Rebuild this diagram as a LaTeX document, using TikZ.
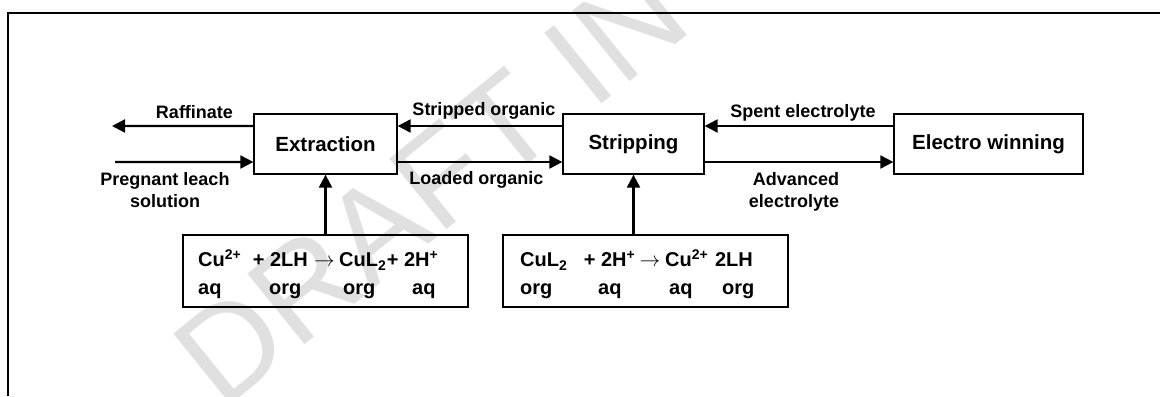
\documentclass[tikz,border=0pt]{standalone}
\usepackage{fontspec}
\setmainfont{Liberation Sans}
\usetikzlibrary{arrows.meta}
\newcommand{\supx}[1]{\raisebox{6.5bp}{\fontsize{14bp}{14bp}\selectfont #1}}
\newcommand{\subx}[1]{\raisebox{-4bp}{\fontsize{14bp}{14bp}\selectfont #1}}
\begin{document}
\begin{tikzpicture}[x=1bp,y=-1bp,
  procbox/.style={draw=black, line width=1.3bp, inner sep=0pt, font=\fontsize{20.5bp}{24bp}\selectfont\bfseries},
  eqbox/.style={draw=black, line width=1.3bp, inner sep=0pt, minimum width=285bp, minimum height=72bp},
  flow/.style={line width=2.2bp, -{Triangle[length=13bp,width=13bp]}},
  lbl/.style={font=\fontsize{18bp}{21bp}\selectfont\bfseries, inner sep=0pt, anchor=base, align=center},
  eqt/.style={font=\fontsize{20bp}{24bp}\selectfont\bfseries, inner sep=0pt, anchor=base west},
  eqr/.style={eqt, anchor=base east},
  eqc/.style={eqt, anchor=base},
  frame/.style={line width=2bp},
  wmark/.style={text=black!12, inner sep=0pt, anchor=base west, rotate=39, font=\fontsize{132bp}{132bp}\selectfont}]
\useasboundingbox (0,0) rectangle (1160,396);
% watermark
\node[wmark] (wm) at (222,412) {DRAFT IN PROGRESS};
% frame
\coordinate (f1) at (8,396);
\coordinate (f2) at (8,13);
\coordinate (f3) at (1160,13);
\draw[frame] (f1) -- (f2) -- (f3);
% process boxes
\node[procbox, minimum width=143bp, minimum height=60bp] (ext) at (325.5,144) {Extraction};
\node[procbox, minimum width=141bp, minimum height=60bp] (strip) at (633.5,144) {Stripping};
\node[procbox, minimum width=189bp, minimum height=60bp] (ew) at (988.5,144) {Electro winning};
% equation boxes
\node[eqbox] (eq1) at (325.5,271) {};
\node[eqbox] (eq2) at (645.5,271) {};
% free ends
\coordinate (raf) at (112,126);
\coordinate (pls) at (115,162);
% flows
\draw[flow] ([yshift=18bp]ext.west) -- (raf);
\draw[flow] (pls) -- ([yshift=-18bp]ext.west);
\draw[flow] ([yshift=18bp]strip.west) -- ([yshift=18bp]ext.east);
\draw[flow] ([yshift=-18bp]ext.east) -- ([yshift=-18bp]strip.west);
\draw[flow] ([yshift=18bp]ew.west) -- ([yshift=18bp]strip.east);
\draw[flow] ([yshift=-18bp]strip.east) -- ([yshift=-18bp]ew.west);
\draw[flow] (eq1.north) -- (ext.south);
\draw[flow] (eq2.north -| strip.south) -- (strip.south);
% flow labels
\node[lbl] (lraf) at (194.5,118) {Raffinate};
\node[lbl] (lpls1) at (165,185) {Pregnant leach};
\node[lbl] (lpls2) at (165,207) {solution};
\node[lbl] (lso) at (484,115) {Stripped organic};
\node[lbl] (llo) at (476.5,184) {Loaded organic};
\node[lbl] (lse) at (803,117) {Spent electrolyte};
\node[lbl] (lae1) at (796,185) {Advanced};
\node[lbl] (lae2) at (794,207) {electrolyte};
% equation 1
\node[eqt] (a1) at (198,266) {Cu\supx{2+}};
\node[eqr] (a2) at (308,266) {+ 2LH};
\node[eqc] (a3) at (324.5,266) {$\rightarrow$};
\node[eqt] (a4) at (339,266) {CuL\subx{2}};
\node[eqr] (a5) at (438,266) {+ 2H\supx{+}};
\node[eqt] (b1) at (198,294) {aq};
\node[eqt] (b2) at (269,294) {org};
\node[eqt] (b3) at (343,294) {org};
\node[eqt] (b4) at (412,294) {aq};
% equation 2
\node[eqt] (c1) at (520,266) {CuL\subx{2}};
\node[eqr] (c2) at (635,266) {+ 2H\supx{+}};
\node[eqc] (c3) at (650,266) {$\rightarrow$};
\node[eqt] (c4) at (665,266) {Cu\supx{2+}};
\node[eqr] (c5) at (753,266) {2LH};
\node[eqt] (d1) at (520,294) {org};
\node[eqt] (d2) at (598,294) {aq};
\node[eqt] (d3) at (669,294) {aq};
\node[eqt] (d4) at (722,294) {org};
\end{tikzpicture}
\end{document}
